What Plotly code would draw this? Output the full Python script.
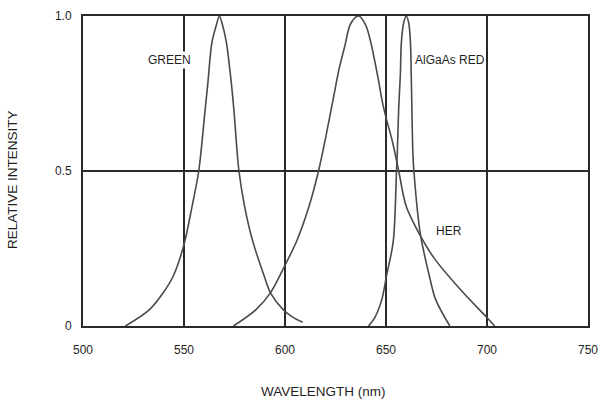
import plotly.graph_objects as go

# Data (wavelength in nm, relative intensity)
green_nm = [521, 532.8, 539.7, 544.8, 550, 554, 557.3, 560.2, 561.9, 563.8, 566.2, 567.5, 568.9, 571, 573, 574.6, 577.2, 580, 584, 589.6, 592.8, 599.2, 604, 608.8]
green_val = [0, 0.052, 0.107, 0.163, 0.263, 0.386, 0.5, 0.68, 0.79, 0.914, 0.975, 1.0, 0.975, 0.914, 0.809, 0.705, 0.5, 0.386, 0.274, 0.163, 0.107, 0.052, 0.028, 0.012]

her_nm = [574.5, 585.5, 592.8, 600, 605.8, 611.9, 616.6, 620.2, 624, 626.8, 629.5, 632.5, 636.4, 640, 642.5, 645.8, 648.3, 650.3, 653, 656.3, 660, 666.5, 673.8, 688.3, 699.7, 703.8]
her_val = [0, 0.052, 0.107, 0.196, 0.274, 0.386, 0.5, 0.61, 0.737, 0.83, 0.9, 0.975, 1.0, 0.97, 0.914, 0.809, 0.72, 0.665, 0.6, 0.5, 0.386, 0.297, 0.219, 0.107, 0.029, 0]

algaas_nm = [641.3, 644.6, 647.9, 650.3, 653.6, 655.2, 655.6, 656.3, 657.1, 657.6, 658.8, 660.0, 661.2, 662.1, 662.5, 662.8, 663.3, 663.8, 667.0, 671.4, 674.6, 681.6]
algaas_val = [0, 0.029, 0.085, 0.163, 0.274, 0.5, 0.559, 0.705, 0.809, 0.914, 0.98, 1.0, 0.98, 0.914, 0.809, 0.705, 0.559, 0.5, 0.297, 0.163, 0.085, 0]

x_ticks = [500, 550, 600, 650, 700, 750]
x_tick_text = ["500", "550", "600", "650", "700", "750"]
y_ticks = [0, 0.5, 1.0]
y_tick_text = ["0", "0.5", "1.0"]

series_labels = ["GREEN", "HER", "AlGaAs RED"]

FONT = "Liberation Sans, Arial, sans-serif"
LINE_C = "#2a2a2a"
CURVE_C = "#4a4a4a"
TEXT_C = "#1f1f1f"

fig = go.Figure()
for name, xs, ys in [(series_labels[0], green_nm, green_val),
                     (series_labels[1], her_nm, her_val),
                     (series_labels[2], algaas_nm, algaas_val)]:
    fig.add_trace(go.Scatter(x=xs, y=ys, mode="lines", name=name,
                             line=dict(color=CURVE_C, width=1.6, shape="spline", smoothing=0.9),
                             showlegend=False, hoverinfo="skip"))

fig.update_layout(
    width=599, height=401,
    margin=dict(l=83, r=11, t=16, b=75),
    paper_bgcolor="white", plot_bgcolor="white",
    font=dict(family=FONT, size=12, color=TEXT_C),
    showlegend=False,
)
fig.update_xaxes(range=[500, 750], tickvals=x_ticks, ticktext=x_tick_text,
                 showgrid=True, gridcolor=LINE_C, gridwidth=1.8,
                 showline=True, linecolor=LINE_C, linewidth=2, mirror=True,
                 zeroline=False, ticks="", ticklabelstandoff=12, automargin=False,
                 tickfont=dict(size=12, family=FONT, color=TEXT_C))
fig.update_yaxes(range=[0, 1.0], tickvals=y_ticks, ticktext=y_tick_text,
                 showgrid=True, gridcolor=LINE_C, gridwidth=1.8,
                 showline=True, linecolor=LINE_C, linewidth=2, mirror=True,
                 zeroline=False, ticks="", ticklabelstandoff=7, automargin=False,
                 tickfont=dict(size=12, family=FONT, color=TEXT_C))

fig.add_annotation(x=542.8, y=0.859, text="GREEN", showarrow=False,
                   xanchor="center", yanchor="middle", bgcolor="white",
                   font=dict(size=12, family=FONT, color=TEXT_C), borderpad=1)
fig.add_annotation(x=663.8, y=0.859, text="AlGaAs RED", showarrow=False,
                   xanchor="left", yanchor="middle",
                   font=dict(size=12, family=FONT, color=TEXT_C), borderpad=0)
fig.add_annotation(x=681.1, y=0.305, text="HER", showarrow=False,
                   xanchor="center", yanchor="middle",
                   font=dict(size=12, family=FONT, color=TEXT_C))

fig.add_annotation(xref="paper", yref="paper", x=0.477, y=-0.212,
                   text="WAVELENGTH (nm)", showarrow=False,
                   xanchor="center", yanchor="middle",
                   font=dict(size=13.5, family=FONT, color=TEXT_C))
fig.add_annotation(xref="paper", yref="paper", x=-0.1386, y=0.471,
                   text="RELATIVE INTENSITY", showarrow=False, textangle=-90,
                   xanchor="center", yanchor="middle",
                   font=dict(size=13.5, family=FONT, color=TEXT_C))

# remove the default page margin so the 599x401 figure fills the window exactly
fig.write_html("out.html", config={"displayModeBar": False},
               post_script="document.body.style.margin='0';")
